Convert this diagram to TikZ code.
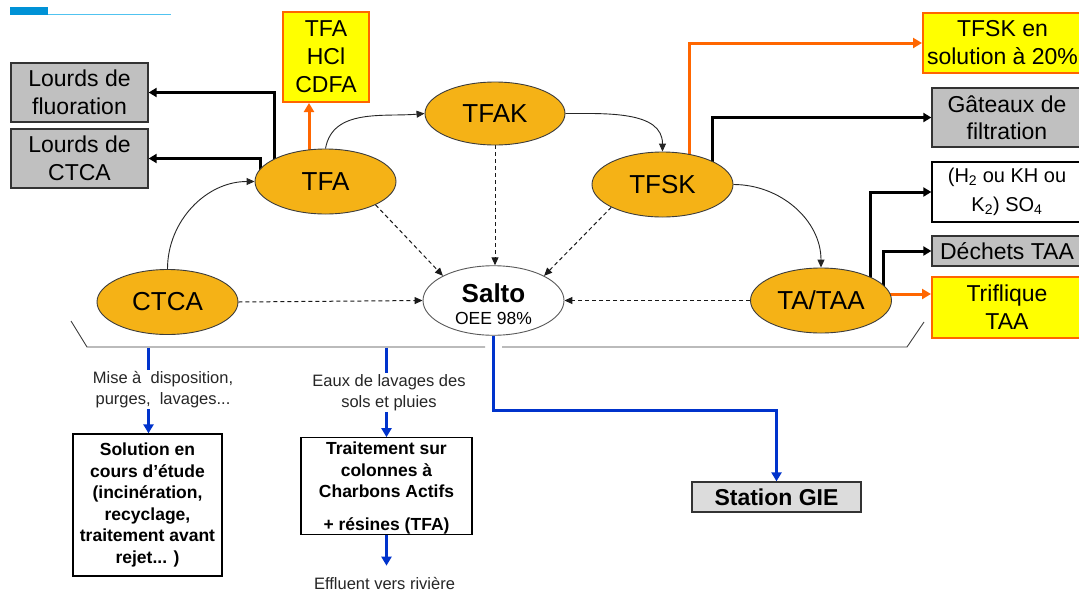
\documentclass[tikz,border=0pt]{standalone}
\usepackage{fontspec}
\setmainfont{Liberation Sans}
\usetikzlibrary{shapes.geometric,arrows.meta}
\pgfdeclarelayer{bg}
\pgfsetlayers{bg,main}
\definecolor{ellfill}{RGB}{245,178,22}
\definecolor{ellline}{RGB}{60,60,60}
\definecolor{ylw}{RGB}{255,255,0}
\definecolor{orgl}{RGB}{255,102,0}
\definecolor{gryf}{RGB}{192,192,192}
\definecolor{gief}{RGB}{220,220,220}
\definecolor{bluel}{RGB}{0,51,204}
\definecolor{barblue}{RGB}{0,146,214}
\definecolor{barlight}{RGB}{80,195,240}
\begin{document}
\begin{tikzpicture}[x=1pt,y=-1pt,
 ell/.style={ellipse,draw=ellline,line width=0.9pt,fill=ellfill,minimum width=141pt,minimum height=65pt,inner sep=0pt,align=center,font=\fontsize{26}{28}\selectfont},
 graybox/.style={draw=black!80,line width=1.3pt,fill=gryf,inner sep=0pt,align=center,font=\fontsize{23}{27.5}\selectfont},
 yelbox/.style={draw=orgl,line width=2pt,fill=ylw,inner sep=0pt,align=center,font=\fontsize{23}{28}\selectfont},
 whitebox/.style={draw=black,line width=1.3pt,fill=white,inner sep=0pt,align=center},
 boldtxt/.style={font=\fontsize{17.5}{21.6}\selectfont\bfseries},
 thinarr/.style={line width=0.9pt,draw=black!85,-{Triangle[length=8pt,width=7pt]}},
 dsharr/.style={line width=1pt,draw=black!90,dash pattern=on 4pt off 3pt,-{Triangle[length=8pt,width=7pt]}},
 blkarr/.style={line width=3pt,draw=black,-{Triangle[length=8pt,width=9pt]}},
 orgarr/.style={line width=3pt,draw=orgl,-{Triangle[length=9pt,width=10pt]}},
 bluarr/.style={line width=3pt,draw=bluel,-{Triangle[length=9pt,width=10pt]}},
 note/.style={font=\fontsize{16.5}{21}\selectfont,align=center,fill=white,inner sep=1pt,text=black!85}
]
\useasboundingbox (0,0) rectangle (1079,595);
% header bar
\fill[barblue] (10,7) rectangle (48,15);
\draw[barlight,line width=1.5pt] (48,14.5) -- (171,14.5);

% left boxes
\node[graybox,minimum width=137pt,minimum height=59pt] (lfl) at (79.5,92.5) {Lourds de\\fluoration};
\node[graybox,minimum width=137pt,minimum height=59pt] (lct) at (79.5,158.5) {Lourds de\\CTCA};
\node[yelbox,minimum width=86pt,minimum height=90pt] (tfabox) at (326,57) {TFA\\HCl\\CDFA};

% ellipses
\node[ell] (tfa) at (325.5,181.5) {TFA};
\node[ell,minimum width=140pt,minimum height=63pt] (tfak) at (495,113.5) {TFAK};
\node[ell] (tfsk) at (662.5,184.5) {TFSK};
\node[ell] (ctca) at (167.5,302) {CTCA};
\node[ell,fill=white,draw=black!65,font=\fontsize{26}{22}\selectfont\bfseries] (salto) at (493.5,300.5)
  {\rule{0pt}{27pt}Salto\\{\fontsize{17.5}{22}\selectfont\mdseries OEE 98\%}};
\node[ell] (taa) at (821,300.5) {TA/TAA};

% right boxes
\node[yelbox,minimum width=159pt,minimum height=60pt] (tskbox) at (1002.5,43) {TFSK en\\solution à 20\%};
\node[graybox,minimum width=150pt,minimum height=59pt] (gat) at (1007,117.5) {Gâteaux de\\filtration};
\node[whitebox,minimum width=150pt,minimum height=60pt,font=\fontsize{20}{29}\selectfont] (h2) at (1007,192)
  {(H\textsubscript{2} ou KH ou\\K\textsubscript{2}) SO\textsubscript{4}};
\node[graybox,minimum width=150pt,minimum height=30pt] (dech) at (1007,251) {Déchets TAA};
\node[yelbox,minimum width=150pt,minimum height=61pt] (trif) at (1007,307.5) {Triflique\\TAA};

% bottom boxes and notes
\node[whitebox,boldtxt,minimum width=149pt,minimum height=142pt] (sol) at (147.5,505)
  {Solution en\\cours d’étude\\(incinération,\\recyclage,\\traitement avant\\rejet... )};
\node[whitebox,boldtxt,minimum width=171pt,minimum height=92pt] (trait) at (386.5,486)
  {\rule{0pt}{17pt}Traitement sur\\colonnes à\\Charbons Actifs\\[11pt]+ résines (TFA)};
\node[draw=black!80,line width=1.3pt,fill=gief,inner sep=0pt,minimum width=169pt,minimum height=30pt,font=\fontsize{23}{27}\selectfont\bfseries] (gie) at (776.5,497) {Station GIE};
\node[note] (mise) at (163,389.5) {Mise à~ disposition,\\purges,~ lavages...};
\node[note] (eaux) at (389,392.5) {Eaux de lavages des\\sols et pluies};
\node[note,anchor=base] (eff) at (384.5,589) {Effluent vers rivière};
\coordinate (brL) at (148.5,347.5);
\coordinate (brM) at (386.5,347.5);

\begin{pgfonlayer}{bg}
\fill[white] (0,0) rectangle (1079,595);
% bracket
\draw[line width=0.9pt,draw=black!75] (71,321) -- (87,347) -- (485,347);
\draw[line width=0.9pt,draw=black!75] (502,347) -- (907,347) -- (924,322);
% process flow
\draw[thinarr] (ctca.north) to[out=90,in=180] (tfa.west);
\draw[thinarr] (tfa.north) to[out=80,in=185] (tfak.west);
\draw[thinarr] (tfak.east) to[out=0,in=90] (tfsk.north);
\draw[thinarr] (tfsk.east) to[out=0,in=90] (taa.north);
% to Salto
\draw[dsharr] (tfa.-25) -- (salto.154);
\draw[dsharr] (tfak.south) -- (tfak.south |- salto.north);
\draw[dsharr] (tfsk.204) -- (salto.26);
\draw[dsharr] (ctca.east) -- (salto.west);
\draw[dsharr] (taa.west) -- (salto.east);
% outputs
\draw[blkarr] ([xshift=-51.5pt]tfa.center) |- (lfl.east);
\draw[blkarr] ([xshift=-65.5pt]tfa.center) |- (lct.east);
\draw[orgarr] ([xshift=-16.5pt]tfa.center) -- ([xshift=-17pt]tfabox.south);
\draw[orgarr] ([xshift=26.5pt]tfsk.center) |- (tskbox.west);
\draw[blkarr] ([xshift=49.5pt]tfsk.center) |- (gat.west);
\draw[blkarr] ([xshift=49pt]taa.center) |- (h2.west);
\draw[blkarr] ([xshift=62pt]taa.center) |- (dech.west);
\draw[orgarr] ([yshift=6.5pt]taa.center) -- ([yshift=13.5pt]trif.west);
% effluents
\draw[bluarr] (salto.south) -- ++(0,75) -| (gie.north);
\draw[bluarr] (brL) -- (brL |- sol.north);
\draw[bluarr] (brM) -- (brM |- trait.north);
\draw[bluarr,shorten >=10pt] (trait.south) -- (trait.south |- eff.north);
\end{pgfonlayer}
\end{tikzpicture}
\end{document}
